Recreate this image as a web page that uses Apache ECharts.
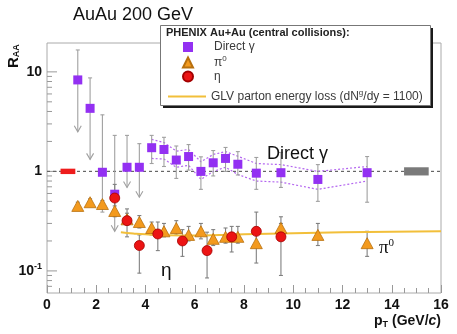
<!DOCTYPE html>
<html>
<head>
<meta charset="utf-8">
<script src="https://cdn.jsdelivr.net/npm/echarts@6/dist/echarts.min.js"></script>
<style>html,body{margin:0;padding:0;background:#fff;}#c{width:457px;height:334px;}</style>
</head>
<body>
<div id="c"></div>
<script>
// ---- data ----
const gammaX  = [1.25,1.75,2.25,2.75,3.25,3.75,4.25,4.75,5.25,5.75,6.25,6.75,7.25,7.75,8.5,9.5,11,13];
const gammaY  = [8.3,4.3,0.98,0.59,1.1,1.1,1.73,1.66,1.3,1.41,1.0,1.22,1.35,1.18,0.96,0.97,0.83,0.97];
const gammaLo = [2.5,1.32,0.39,0.25,0.69,0.55,1.2,1.12,0.85,1.03,0.66,0.9,1.0,0.92,0.66,0.69,0.5,0.49];
const gammaHi = [16.6,8.7,3.7,2.3,2.3,1.9,2.3,2.2,1.8,1.86,1.4,1.62,1.74,1.58,1.38,1.55,1.17,1.41];
const gammaUpperLimit = [1,1,0,1,1,1,0,0,0,0,0,0,0,0,0,0,0,0];

const bandX  = [4.25,4.75,5.25,5.75,6.25,6.75,7.25,7.75,8.5,9.5,11,13];
const bandHi = [2.1,1.95,1.6,1.66,1.25,1.48,1.58,1.42,1.2,1.17,1.0,1.12];
const bandLo = [1.35,1.33,1.1,1.15,0.83,1.0,1.1,0.93,0.8,0.78,0.66,0.8];

const pi0X  = [1.25,1.75,2.25,2.75,3.25,3.75,4.25,4.75,5.25,5.75,6.25,6.75,7.25,7.75,8.5,9.5,11,13];
const pi0Y  = [0.45,0.49,0.47,0.40,0.33,0.31,0.27,0.25,0.27,0.23,0.25,0.21,0.22,0.22,0.19,0.27,0.23,0.19];
const pi0Lo = [0.42,0.45,0.43,0.35,0.29,0.27,0.23,0.22,0.23,0.20,0.21,0.18,0.19,0.19,0.12,0.22,0.18,0.14];
const pi0Hi = [0.49,0.53,0.51,0.50,0.38,0.36,0.31,0.30,0.32,0.28,0.30,0.26,0.27,0.28,0.25,0.35,0.30,0.25];

const etaX  = [2.75,3.25,3.75,4.5,5.5,6.5,7.5,8.5,9.5];
const etaY  = [0.54,0.32,0.18,0.235,0.20,0.16,0.22,0.25,0.22];
const etaLo = [0.45,0.22,0.095,0.16,0.14,0.085,0.155,0.185,0.09];
const etaHi = [0.74,0.42,0.23,0.31,0.26,0.245,0.28,0.39,0.30];

const glvX = [3,3.5,4,5,6,7,8,10,12,14,16];
const glvY = [0.245,0.238,0.233,0.228,0.227,0.229,0.233,0.239,0.244,0.247,0.25];

const normX0 = [0.55,14.5];
const normX1 = [1.15,15.5];
const normLo = [0.94,0.91];
const normHi = [1.065,1.1];

const unityY = 1;
const xTicks = [0,2,4,6,8,10,12,14,16];
const yMajorTicks = [0.1,1,10];
const yMinorTicks = [0.07,0.08,0.09,0.2,0.3,0.4,0.5,0.6,0.7,0.8,0.9,2,3,4,5,6,7,8,9];

const names = {
  gamma: 'Direct γ',
  pi0: 'π0',
  eta: 'η',
  glv: 'GLV parton energy loss (dNg/dy = 1100)'
};

// ---- chart ----
const FONT = '"Liberation Sans", Arial, sans-serif';
const chart = echarts.init(document.getElementById('c'), null, {renderer: 'canvas'});

function zip(xs, ...cols) { return xs.map((x, i) => [x, ...cols.map(c => c[i])]); }

function errRender(color) {
  return function (params, api) {
    const x = api.value(0), lo = api.value(1), hi = api.value(2), arrow = api.value(3);
    const pt = api.coord([x, hi]);
    const pb = api.coord([x, lo]);
    const st = {stroke: color, lineWidth: 1.1, fill: null};
    const ch = [
      {type: 'line', shape: {x1: pt[0], y1: pt[1], x2: pb[0], y2: pb[1]}, style: st},
      {type: 'line', shape: {x1: pt[0] - 2, y1: pt[1], x2: pt[0] + 2, y2: pt[1]}, style: st}
    ];
    if (arrow) {
      ch.push({type: 'polyline', shape: {points: [[pb[0] - 3.5, pb[1] - 6], [pb[0], pb[1]], [pb[0] + 3.5, pb[1] - 6]]}, style: st});
    } else {
      ch.push({type: 'line', shape: {x1: pb[0] - 2, y1: pb[1], x2: pb[0] + 2, y2: pb[1]}, style: st});
    }
    return {type: 'group', children: ch};
  };
}

const ticksData = yMajorTicks.map(v => [0, v, 10]).concat(yMinorTicks.map(v => [0, v, 5]));

const legendText = {fontSize: 12, color: '#3a3a3a', fontFamily: FONT,
  rich: {
    gap: {width: 16},
    sup: {fontSize: 8, color: '#3a3a3a', fontFamily: FONT, padding: [0, 0, 7, 0]}
  }};

const option = {
  animation: false,
  title: {
    text: 'AuAu 200 GeV', left: 68, top: 1,
    textStyle: {fontSize: 18, fontWeight: 'normal', color: '#111', fontFamily: FONT}
  },
  grid: {left: 47, right: 16, top: 43, bottom: 41, show: true, borderColor: '#aaa', borderWidth: 1, backgroundColor: 'transparent'},
  xAxis: {
    type: 'value', min: xTicks[0], max: xTicks[xTicks.length - 1], interval: 2,
    axisLine: {show: false},
    axisTick: {show: true, inside: true, length: 8, lineStyle: {color: '#999'}},
    minorTick: {show: true, splitNumber: 4, length: 5, lineStyle: {color: '#999'}},
    splitLine: {show: false},
    axisLabel: {color: '#111', fontWeight: 'bold', fontSize: 14, fontFamily: FONT, margin: 5}
  },
  yAxis: {
    type: 'log', logBase: 10, min: 0.06, max: 19.5,
    axisLine: {show: false},
    axisTick: {show: false},
    splitLine: {show: false},
    minorTick: {show: false},
    axisLabel: {
      color: '#111', fontWeight: 'bold', fontSize: 14, fontFamily: FONT, margin: 5,
      showMinLabel: false, showMaxLabel: false,
      formatter: function (v) {
        const l = Math.log10(v);
        if (Math.abs(l - Math.round(l)) > 1e-6) return '';
        const r = Math.round(l);
        if (r === 0) return '1';
        if (r === 1) return '10';
        if (r === -1) return '10{sup|-1}';
        return '';
      },
      rich: {sup: {fontSize: 9, fontWeight: 'bold', fontFamily: FONT, color: '#111', padding: [0, 0, 8, 0]}}
    }
  },
  legend: [
    {
      orient: 'vertical', left: 182, top: 41, padding: 0, itemWidth: 10, itemHeight: 10, itemGap: 2,
      data: [names.gamma, names.pi0, names.eta],
      selectedMode: false, z: 60,
      textStyle: legendText,
      formatter: function (n) {
        if (n === names.pi0) return '{gap|}π{sup|0}';
        return '{gap|}' + n;
      }
    },
    {
      orient: 'vertical', left: 168, top: 89, padding: 0, itemWidth: 38, itemHeight: 2,
      data: [{name: names.glv, icon: 'rect'}],
      selectedMode: false, z: 60,
      textStyle: legendText,
      formatter: function () { return 'GLV parton energy loss (dN{sup|g}/dy = 1100)'; }
    }
  ],
  graphic: [
    {type: 'rect', left: 163, top: 28, shape: {width: 270, height: 80}, style: {fill: '#1a1a1a'}, z: 50},
    {type: 'rect', left: 160, top: 25, shape: {width: 270, height: 80}, style: {fill: '#fff', stroke: '#777', lineWidth: 1}, z: 51},
    {type: 'text', left: 166, top: 27, z: 52, style: {text: 'PHENIX Au+Au (central collisions):', font: 'bold 11px ' + FONT, fill: '#222'}},
    {type: 'text', x: 6, y: 68, rotation: Math.PI / 2, z: 52,
      style: {text: 'R{sub|AA}', font: 'bold 15px ' + FONT, fill: '#111',
        rich: {sub: {fontSize: 9, fontWeight: 'bold', fontFamily: FONT, fill: '#111', padding: [6, 0, 0, 0]}}}},
    {type: 'text', right: 16, top: 314, z: 52,
      style: {text: 'p{sub|T} (GeV/{it|c})', font: 'bold 14px ' + FONT, fill: '#111',
        rich: {sub: {fontSize: 9, fontWeight: 'bold', fontFamily: FONT, fill: '#111', padding: [7, 0, 0, 0]},
               it: {fontSize: 14, fontWeight: 'bold', fontStyle: 'italic', fontFamily: FONT, fill: '#111'}}}},
    {type: 'text', left: 267, top: 145, z: 52, style: {text: 'Direct γ', font: '18px ' + FONT, fill: '#111'}},
    {type: 'text', left: 379, top: 238, z: 52,
      style: {text: 'π{sup|0}', font: '19px "Liberation Serif", serif', fill: '#111',
        rich: {sup: {fontSize: 11, fontFamily: '"Liberation Serif", serif', fill: '#111', padding: [0, 0, 9, 0]}}}},
    {type: 'text', left: 161, top: 261, z: 52, style: {text: 'η', font: '19px ' + FONT, fill: '#111'}}
  ],
  series: [
    {
      name: 'yticks', type: 'custom', silent: true, z: 1,
      data: ticksData, encode: {x: 0, y: 1},
      renderItem: function (params, api) {
        const p = api.coord([api.value(0), api.value(1)]);
        return {type: 'line', shape: {x1: p[0], y1: p[1], x2: p[0] + api.value(2), y2: p[1]}, style: {stroke: '#999', lineWidth: 1}};
      }
    },
    {
      name: 'unity', type: 'line', silent: true, z: 2, symbol: 'none',
      data: [[xTicks[0], unityY], [xTicks[xTicks.length - 1], unityY]],
      lineStyle: {color: '#666', width: 1.2, type: [3, 3]}
    },
    {
      name: 'norm', type: 'custom', silent: true, z: 3,
      data: zip(normX0, normX1, normLo, normHi), encode: {x: [0, 1], y: [2, 3]},
      renderItem: function (params, api) {
        const a = api.coord([api.value(0), api.value(3)]);
        const b = api.coord([api.value(1), api.value(2)]);
        return {type: 'rect', shape: {x: a[0], y: a[1], width: b[0] - a[0], height: b[1] - a[1]},
          style: {fill: params.dataIndex === 0 ? '#ee1c1c' : '#7a7a7a'}};
      }
    },
    {
      name: 'bandHi', type: 'line', silent: true, z: 3, symbol: 'none',
      data: zip(bandX, bandHi), lineStyle: {color: '#b466f0', width: 1.2, type: [2, 2]}
    },
    {
      name: 'bandLo', type: 'line', silent: true, z: 3, symbol: 'none',
      data: zip(bandX, bandLo), lineStyle: {color: '#b466f0', width: 1.2, type: [2, 2]}
    },
    {
      name: 'gammaErr', type: 'custom', silent: true, z: 4,
      data: zip(gammaX, gammaLo, gammaHi, gammaUpperLimit), encode: {x: 0, y: [1, 2]},
      renderItem: errRender('#a0a0a0')
    },
    {
      name: 'pi0Err', type: 'custom', silent: true, z: 4,
      data: zip(pi0X, pi0Lo, pi0Hi, pi0X.map(() => 0)), encode: {x: 0, y: [1, 2]},
      renderItem: errRender('#808080')
    },
    {
      name: 'etaErr', type: 'custom', silent: true, z: 4,
      data: zip(etaX, etaLo, etaHi, etaX.map(() => 0)), encode: {x: 0, y: [1, 2]},
      renderItem: errRender('#808080')
    },
    {
      name: names.glv, type: 'line', z: 5, symbol: 'none', smooth: true,
      data: zip(glvX, glvY),
      lineStyle: {color: '#f2bf3a', width: 2},
      itemStyle: {color: '#f2bf3a'}
    },
    {
      name: names.gamma, type: 'scatter', z: 6, symbol: 'rect', symbolSize: 9,
      data: zip(gammaX, gammaY),
      itemStyle: {color: '#9330f2', opacity: 1}
    },
    {
      name: names.pi0, type: 'scatter', z: 7, symbol: 'triangle', symbolSize: [12, 11],
      data: zip(pi0X, pi0Y),
      itemStyle: {color: '#f39a1e', borderColor: '#b8700e', borderWidth: 0.8, opacity: 1}
    },
    {
      name: names.eta, type: 'scatter', z: 8, symbol: 'circle', symbolSize: 10,
      data: zip(etaX, etaY),
      itemStyle: {color: '#ec1414', borderColor: '#a30000', borderWidth: 0.8, opacity: 1}
    }
  ]
};
chart.setOption(option);
</script>
</body>
</html>
